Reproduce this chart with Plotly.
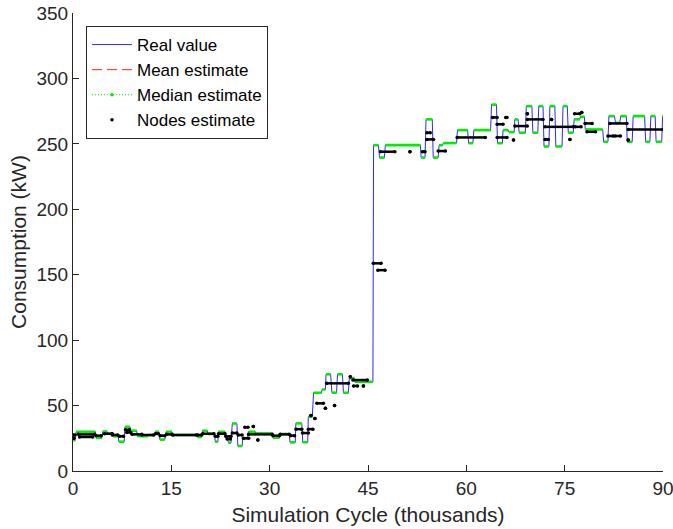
import plotly.graph_objects as go

# ---------------- data ----------------
# Real value: piecewise-constant plateaus (start cycle [k], end cycle [k], kW)
real_start = [0.0, 0.5, 3.55, 4.55, 5.3, 6.2, 7.0, 7.95, 8.8, 9.85, 11.5, 12.55, 13.25, 14.2,
              15.2, 19.0, 19.75, 20.6, 21.7, 22.2, 23.3, 23.7, 24.3, 25.15, 25.9, 26.75, 27.9,
              30.5, 31.6, 33.1, 34.0, 35.05, 35.9, 36.7, 38.0, 38.6, 39.5, 40.35, 41.25, 42.15,
              43.0, 45.85, 46.75, 47.65, 53.1, 53.85, 54.95, 55.85, 56.5, 58.65, 60.35, 61.15,
              63.85, 64.75, 65.6, 66.5, 67.4, 68.05, 69.15, 70.15, 71.05, 71.85, 72.75, 73.65,
              74.75, 75.55, 76.45, 77.4, 78.15, 80.95, 81.75, 82.75, 83.55, 84.55, 85.45, 87.35,
              88.15, 88.95, 89.95]
real_end = [0.35, 3.4, 4.4, 5.2, 6.1, 6.9, 7.8, 8.7, 9.7, 11.4, 12.4, 13.1, 14.0, 15.1,
            18.9, 19.6, 20.5, 21.6, 22.1, 23.2, 23.6, 24.1, 25.0, 25.8, 26.6, 27.8, 30.4,
            31.5, 33.0, 33.9, 34.9, 35.8, 36.5, 37.9, 38.5, 39.3, 40.2, 41.1, 42.0, 42.9,
            45.75, 46.6, 47.5, 53.0, 53.7, 54.8, 55.7, 56.4, 58.5, 60.2, 61.0, 63.7,
            64.6, 65.5, 66.4, 67.3, 67.9, 69.0, 70.0, 70.9, 71.7, 72.6, 73.5, 74.6,
            75.4, 76.3, 77.3, 78.0, 80.8, 81.6, 82.6, 83.4, 84.4, 85.3, 87.2, 88.0,
            88.8, 89.8, 90.0]
real_value = [23.5, 30.0, 25.3, 30.2, 28.5, 26.5, 22.4, 33.8, 30.8, 26.6, 27.5, 30.0, 24.0, 30.0,
              27.5, 26.0, 30.8, 28.3, 22.4, 30.0, 25.7, 21.6, 36.3, 19.1, 25.0, 30.0, 28.8,
              25.5, 28.3, 21.9, 36.4, 22.0, 41.5, 59.8, 62.3, 73.9, 59.8, 73.9, 59.8, 71.0,
              68.2, 249.0, 239.5, 249.0, 239.5, 268.7, 239.5, 249.0, 250.6, 260.5, 250.5, 260.5,
              280.0, 250.5, 260.5, 259.0, 268.7, 258.5, 278.8, 258.5, 278.8, 248.0, 278.8, 248.0,
              278.8, 258.5, 268.7, 270.7, 261.0, 251.6, 271.2, 266.0, 271.2, 251.6, 271.2, 251.6,
              271.2, 251.6, 271.2]

# Mean and median estimates coincide with the real value (mean is hidden under median)
mean_value = list(real_value)
median_value = list(real_value)

# Nodes estimate: runs of node estimates (start cycle [k], end cycle [k], kW)
nodes_start = [0.0, 0.1, 0.8, 1.0, 3.5, 4.8, 6.0, 7.1, 8.0, 8.2, 9.0, 10.5, 12.6, 13.3, 14.3,
               15.2, 19.0, 19.8, 21.7, 22.2, 23.3, 23.5, 24.3, 25.2, 26.2, 27.5, 26.0, 28.2,
               26.8, 30.5, 31.6, 33.2, 34.0, 35.0, 35.9, 36.3, 36.9, 37.2, 38.5, 38.7, 39.9,
               42.3, 42.7, 42.8, 44.3, 45.8, 46.5, 46.9, 51.4, 53.3, 54.0, 54.0, 55.7, 58.6,
               64.0, 64.7, 66.0, 64.7, 67.2, 67.4, 69.3, 69.3, 72.0, 73.0, 72.0, 75.8, 76.5,
               77.6, 76.6, 78.1, 78.4, 81.6, 81.9, 82.7, 84.7, 84.7]
nodes_end = [0.3, 0.1, 3.3, 3.0, 4.3, 6.0, 6.8, 7.7, 8.6, 8.8, 10.5, 12.3, 13.0, 14.0, 15.1,
             18.8, 19.6, 21.5, 22.1, 23.2, 24.1, 24.0, 25.0, 25.8, 26.7, 27.5, 26.8, 28.2,
             30.4, 31.5, 33.0, 33.8, 34.9, 35.9, 36.6, 36.3, 36.9, 38.2, 38.5, 42.0, 39.9,
             42.3, 44.9, 43.4, 44.3, 47.0, 47.6, 49.1, 51.4, 53.7, 54.5, 55.0, 56.8, 62.9,
             64.7, 65.6, 66.2, 66.2, 67.2, 69.3, 69.3, 71.7, 76.3, 73.0, 72.5, 75.8, 77.3,
             77.6, 77.5, 79.2, 79.7, 82.4, 84.5, 83.5, 90.0, 84.7]
nodes_value = [27.5, 25.0, 28.0, 26.0, 27.0, 28.5, 27.5, 26.5, 31.5, 29.5, 28.0, 27.5, 28.5, 27.0, 28.0,
               27.5, 27.5, 28.5, 26.5, 28.5, 26.5, 24.5, 29.0, 27.5, 33.4, 34.0, 25.0, 23.7,
               28.0, 27.0, 28.0, 27.0, 32.0, 29.0, 32.0, 42.5, 40.2, 51.7, 47.9, 67.0, 50.0,
               72.0, 69.5, 65.0, 65.0, 158.7, 153.5, 244.0, 244.0, 244.0, 258.5, 253.4, 244.5, 254.9,
               270.2, 265.0, 270.2, 254.9, 253.0, 263.6, 273.0, 268.7, 263.0, 268.7, 253.4, 253.4, 273.0,
               274.0, 263.0, 265.6, 259.2, 256.0, 265.6, 256.0, 261.0, 253.0]

x_ticks = [0, 15, 30, 45, 60, 75, 90]
y_ticks = [0, 50, 100, 150, 200, 250, 300, 350]

# ---------------- build traces ----------------
def joined(starts, ends, vals):
    xs, ys = [], []
    for a, b, v in zip(starts, ends, vals):
        xs += [a, b]
        ys += [v, v]
    return xs, ys

def separated(starts, ends, vals):
    xs, ys = [], []
    for a, b, v in zip(starts, ends, vals):
        xs += [a, b, None]
        ys += [v, v, None]
    return xs, ys

BLUE = "#2b2bff"
RED = "#ff2020"
GREEN = "#00ee00"
FONT = "Liberation Sans, Arial, sans-serif"
AXC = "#262626"

fig = go.Figure()

rx, ry = joined(real_start, real_end, real_value)
fig.add_trace(go.Scatter(x=rx, y=ry, mode="lines", name="Real value",
                         line=dict(color=BLUE, width=1), legendrank=1, hoverinfo="skip"))

mx, my = separated(real_start, real_end, mean_value)
fig.add_trace(go.Scatter(x=mx, y=my, mode="lines", showlegend=False,
                         line=dict(color=RED, width=1, dash="10px,5px"), hoverinfo="skip"))
fig.add_trace(go.Scatter(x=[None], y=[None], mode="lines", name="Mean estimate",
                         line=dict(color=RED, width=1, dash="10px,5px"), legendrank=2))

gx, gy = separated(real_start, real_end, median_value)
fig.add_trace(go.Scatter(x=gx, y=gy, mode="lines", showlegend=False,
                         line=dict(color=GREEN, width=2.6), hoverinfo="skip"))
fig.add_trace(go.Scatter(x=[None], y=[None], mode="lines+markers", name="Median estimate",
                         line=dict(color=GREEN, width=1, dash="1px,2px"),
                         marker=dict(color=GREEN, size=3.5), legendrank=3))

nx, ny = separated(nodes_start, nodes_end, nodes_value)
fig.add_trace(go.Scatter(x=nx, y=ny, mode="lines+markers", showlegend=False,
                         line=dict(color="black", width=2.5),
                         marker=dict(color="black", size=3.5), hoverinfo="skip"))
fig.add_trace(go.Scatter(x=[None], y=[None], mode="markers", name="Nodes estimate",
                         marker=dict(color="black", size=3.5), legendrank=4))

fig.update_layout(
    width=673, height=529,
    margin=dict(l=73, r=10, t=13, b=58),
    paper_bgcolor="white", plot_bgcolor="white",
    font=dict(family=FONT, size=19, color=AXC),
    showlegend=True,
    legend=dict(x=0.022, y=0.9716, xanchor="left", yanchor="top",
                bgcolor="white", bordercolor=AXC, borderwidth=1, itemwidth=40,
                font=dict(size=17, color="black"), tracegroupgap=0),
    xaxis=dict(range=[0, 90], tickvals=x_ticks, ticks="inside", ticklen=6, tickcolor=AXC,
               ticklabeloverflow="allow", automargin=False,
               showline=True, linecolor=AXC, linewidth=1, showgrid=False, zeroline=False,
               title=dict(text="Simulation Cycle (thousands)", font=dict(size=21), standoff=9)),
    yaxis=dict(range=[0, 350], tickvals=y_ticks, ticks="inside", ticklen=6, tickcolor=AXC,
               ticklabeloverflow="allow", automargin=False,
               showline=True, linecolor=AXC, linewidth=1, showgrid=False, zeroline=False,
               title=dict(text="Consumption (kW)", font=dict(size=21), standoff=4)),
)

fig.write_html("out.html")
